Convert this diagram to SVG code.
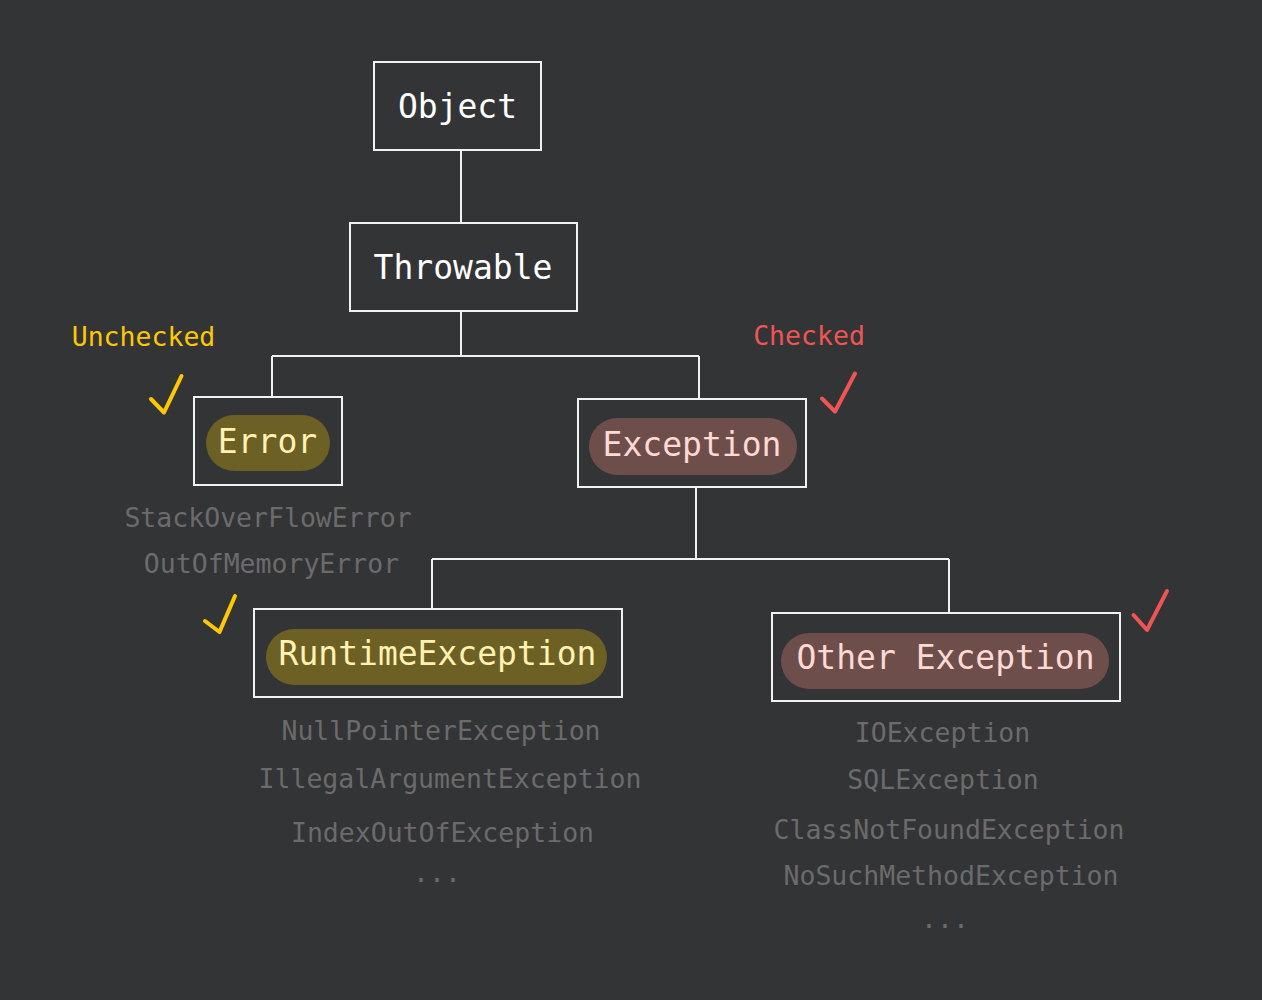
<svg xmlns="http://www.w3.org/2000/svg" width="1262" height="1000" viewBox="0 0 1262 1000">
<style>
.box{fill:none;stroke:#f2f2f2;stroke-width:2}
.wire{fill:none;stroke:#f2f2f2;stroke-width:2}
.t{font-family:"DejaVu Sans Mono","Liberation Mono",monospace;text-anchor:middle}
.node{font-size:33px;fill:#ffffff}
.gray{font-size:26.5px;fill:#6b6b6b}
.yel{fill:#ffc800}
.red{fill:#f05454}
.pillY{fill:#6d6024}
.pillR{fill:#6e4e4b}
.txtY{font-size:33px;fill:#fff2b3}
.txtR{font-size:33px;fill:#ffd9d3}
.chkY{fill:none;stroke:#ffc800;stroke-width:4;stroke-linecap:round;stroke-linejoin:round}
.chkR{fill:none;stroke:#f05454;stroke-width:4;stroke-linecap:round;stroke-linejoin:round}
</style>
<rect x="0" y="0" width="1262" height="1000" fill="#333436"/>
<g id="connectors">
<path class="wire" d="M461 150 V223"/>
<path class="wire" d="M461 311 V356 M272 356 H699 M272 356 V397 M699 356 V399"/>
<path class="wire" d="M696 487 V559 M432 559 H949 M432 559 V609 M949 559 V613"/>
</g>
<g id="object">
<rect class="box" x="374" y="62" width="167" height="88"/>
<text class="t node" x="457.5" y="118">Object</text>
</g>
<g id="throwable">
<rect class="box" x="350" y="223" width="227" height="88"/>
<text class="t node" x="463" y="279">Throwable</text>
</g>
<g id="unchecked-label">
<text class="t yel" style="font-size:26.5px" x="143.5" y="346">Unchecked</text>
<path class="chkY" d="M151 399 L164 412.5 L181.5 376"/>
</g>
<g id="error">
<rect class="box" x="194" y="397" width="148" height="88"/>
<rect class="pillY" x="206" y="415" width="124" height="56" rx="28"/>
<text class="t txtY" x="267.5" y="453">Error</text>
</g>
<g id="error-examples">
<text class="t gray" x="268" y="527">StackOverFlowError</text>
<text class="t gray" x="271.5" y="572.5">OutOfMemoryError</text>
</g>
<g id="checked-label">
<text class="t red" style="font-size:26.5px" x="809" y="345">Checked</text>
<path class="chkR" d="M822 398.5 L835 411.5 L855 373.5"/>
</g>
<g id="exception">
<rect class="box" x="578" y="399" width="228" height="88"/>
<rect class="pillR" x="589" y="418" width="208" height="57" rx="28.5"/>
<text class="t txtR" x="692" y="455.5">Exception</text>
</g>
<g id="runtime">
<path class="chkY" d="M205 621 L219.5 632 L235 596"/>
<rect class="box" x="254" y="609" width="368" height="88"/>
<rect class="pillY" x="266" y="629" width="341" height="56" rx="28"/>
<text class="t txtY" x="437.5" y="665">RuntimeException</text>
</g>
<g id="runtime-examples">
<text class="t gray" x="441" y="740">NullPointerException</text>
<text class="t gray" x="450" y="788">IllegalArgumentException</text>
<text class="t gray" x="442.5" y="841.5">IndexOutOfException</text>
<text class="t gray" x="437" y="882">...</text>
</g>
<g id="other">
<path class="chkR" d="M1133.5 615 L1147 630 L1167 591"/>
<rect class="box" x="772" y="613" width="348" height="88"/>
<rect class="pillR" x="781" y="633" width="328" height="56" rx="28"/>
<text class="t txtR" x="945.5" y="669">Other Exception</text>
</g>
<g id="other-examples">
<text class="t gray" x="942.5" y="741.5">IOException</text>
<text class="t gray" x="943" y="789">SQLException</text>
<text class="t gray" x="949" y="839">ClassNotFoundException</text>
<text class="t gray" x="951" y="885">NoSuchMethodException</text>
<text class="t gray" x="945" y="928">...</text>
</g>
</svg>
